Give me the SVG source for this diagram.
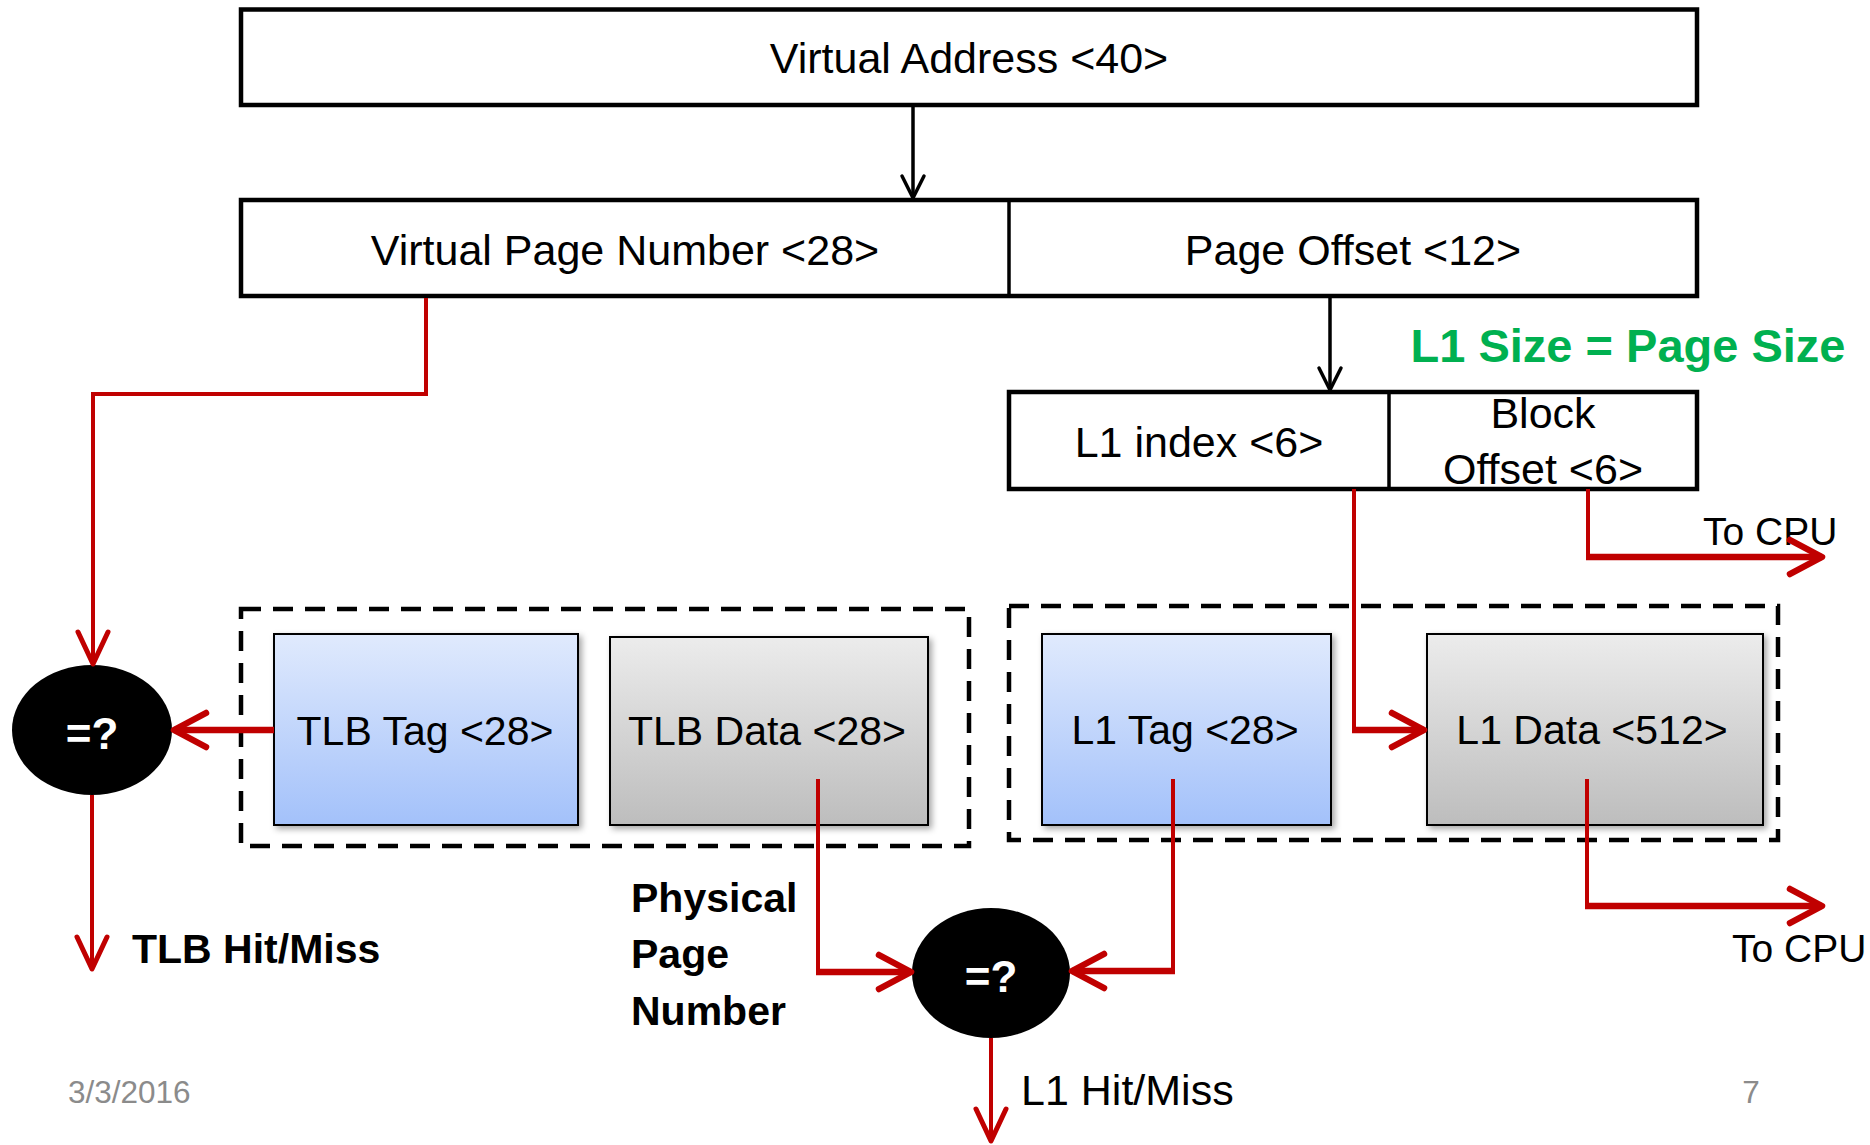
<svg xmlns="http://www.w3.org/2000/svg" width="1870" height="1145" viewBox="0 0 1870 1145">
<style>
  .t { font-family: "Liberation Sans", Arial, sans-serif; fill: #000; }
  .c { text-anchor: middle; }
  .f43 { font-size: 43px; }
  .f41 { font-size: 41px; }
  .b { font-weight: bold; }
  .box { fill: #fff; stroke: #000; stroke-width: 4.5; }
  .div { stroke: #000; stroke-width: 3.5; }
  .dash { fill: none; stroke: #000; stroke-width: 4.5; stroke-dasharray: 20 12; }
  .mem { stroke: #000; stroke-width: 2; }
  .red { fill: none; stroke: #C00000; stroke-width: 4; }
  .redh { fill: none; stroke: #C00000; stroke-width: 6.5; }
  .blk { fill: none; stroke: #000; stroke-width: 3.5; }
  .foot { font-family: "Liberation Sans", Arial, sans-serif; font-size: 31.5px; fill: #8B8B8B; }
</style>
<defs>
  <linearGradient id="gBlue" x1="0" y1="0" x2="0" y2="1">
    <stop offset="0" stop-color="#E0EAFD"/>
    <stop offset="1" stop-color="#A3C1FA"/>
  </linearGradient>
  <linearGradient id="gGray" x1="0" y1="0" x2="0" y2="1">
    <stop offset="0" stop-color="#ECECEC"/>
    <stop offset="1" stop-color="#BDBDBD"/>
  </linearGradient>
  <filter id="sh" x="-10%" y="-10%" width="130%" height="130%">
    <feDropShadow dx="3" dy="3" stdDeviation="3" flood-color="#000" flood-opacity="0.35"/>
  </filter>
  <marker id="aR" markerUnits="userSpaceOnUse" orient="auto" refX="0" refY="0" markerWidth="1" markerHeight="1" overflow="visible">
    <path d="M-32,-17 L0,0 L-32,17" fill="none" stroke="#C00000" stroke-width="6.5" stroke-linecap="round" stroke-linejoin="round"/>
  </marker>
  <marker id="aRt" markerUnits="userSpaceOnUse" orient="auto" refX="0" refY="0" markerWidth="1" markerHeight="1" overflow="visible">
    <path d="M-32,-15 L0,0 L-32,15" fill="none" stroke="#C00000" stroke-width="5" stroke-linecap="round" stroke-linejoin="round"/>
  </marker>
  <marker id="aK" markerUnits="userSpaceOnUse" orient="auto" refX="0" refY="0" markerWidth="1" markerHeight="1" overflow="visible">
    <path d="M-22,-11 L0,0 L-22,11" fill="none" stroke="#000" stroke-width="3.5" stroke-linecap="round" stroke-linejoin="round"/>
  </marker>
</defs>

<rect width="1870" height="1145" fill="#fff"/>

<g id="virtual-address">
  <rect class="box" x="241" y="9.5" width="1456" height="95.5"/>
  <text class="t c f43" x="969" y="73">Virtual Address &lt;40&gt;</text>
</g>

<g id="vpn-offset">
  <rect class="box" x="241" y="200" width="1456" height="96"/>
  <line class="div" x1="1009" y1="200" x2="1009" y2="296"/>
  <text class="t c f43" x="625" y="265">Virtual Page Number &lt;28&gt;</text>
  <text class="t c f43" x="1353" y="265">Page Offset &lt;12&gt;</text>
</g>

<g id="l1-index-offset">
  <rect class="box" x="1009" y="392" width="688" height="97"/>
  <line class="div" x1="1389" y1="392" x2="1389" y2="489"/>
  <text class="t c f43" x="1199" y="457">L1 index &lt;6&gt;</text>
  <text class="t c f43" x="1543" y="428">Block</text>
  <text class="t c f43" x="1543" y="484">Offset &lt;6&gt;</text>
</g>

<g id="l1-size-note">
  <text class="t c b" x="1628" y="362" font-size="47" style="fill:#00B050">L1 Size = Page Size</text>
</g>

<g id="tlb">
  <rect class="dash" x="241" y="609" width="728" height="237"/>
  <g id="tlb-tag">
    <rect class="mem" x="274" y="634" width="304" height="191" fill="url(#gBlue)" filter="url(#sh)"/>
    <text class="t c f41" x="425" y="745">TLB Tag &lt;28&gt;</text>
  </g>
  <g id="tlb-data">
    <rect class="mem" x="610" y="637" width="318" height="188" fill="url(#gGray)" filter="url(#sh)"/>
    <text class="t c f41" x="767" y="745">TLB Data &lt;28&gt;</text>
  </g>
</g>

<g id="l1">
  <rect class="dash" x="1009" y="606" width="769" height="234"/>
  <g id="l1-tag">
    <rect class="mem" x="1042" y="634" width="289" height="191" fill="url(#gBlue)" filter="url(#sh)"/>
    <text class="t c f41" x="1185" y="744">L1 Tag &lt;28&gt;</text>
  </g>
  <g id="l1-data">
    <rect class="mem" x="1427" y="634" width="336" height="191" fill="url(#gGray)" filter="url(#sh)"/>
    <text class="t c f41" x="1592" y="744">L1 Data &lt;512&gt;</text>
  </g>
</g>

<g id="tlb-compare">
  <ellipse cx="92" cy="730" rx="80" ry="65" fill="#000"/>
  <text class="t c b" x="92" y="749" font-size="44" style="fill:#fff">=?</text>
</g>

<g id="l1-compare">
  <ellipse cx="991" cy="973" rx="79" ry="65" fill="#000"/>
  <text class="t c b" x="991" y="992" font-size="44" style="fill:#fff">=?</text>
</g>

<g id="labels">
  <text class="t b f41" x="132" y="963">TLB Hit/Miss</text>
  <text class="t b f41" x="631" y="912">Physical</text>
  <text class="t b f41" x="631" y="968">Page</text>
  <text class="t b f41" x="631" y="1025">Number</text>
  <text class="t f43" x="1021" y="1105">L1 Hit/Miss</text>
  <text class="t" x="1703" y="545" font-size="39">To CPU</text>
  <text class="t" x="1732" y="962" font-size="39">To CPU</text>
</g>

<g id="connectors">
  <line class="blk" x1="913" y1="107" x2="913" y2="198" marker-end="url(#aK)"/>
  <line class="blk" x1="1330" y1="298" x2="1330" y2="390" marker-end="url(#aK)"/>

  <path class="red" d="M426,298 V394 H93 V664" marker-end="url(#aRt)"/>
  <line class="redh" x1="274" y1="730" x2="174" y2="730" marker-end="url(#aR)"/>
  <path class="red" d="M92,795 V969" marker-end="url(#aRt)"/>

  <path class="red" d="M1354,489 V733"/>
  <line class="redh" x1="1352" y1="730" x2="1424" y2="730" marker-end="url(#aR)"/>

  <path class="red" d="M1588,489 V559"/>
  <line class="redh" x1="1586" y1="557" x2="1822" y2="557" marker-end="url(#aR)"/>

  <path class="red" d="M818,779 V975"/>
  <line class="redh" x1="816" y1="972" x2="911" y2="972" marker-end="url(#aR)"/>

  <path class="red" d="M1173,779 V974"/>
  <line class="redh" x1="1175" y1="971" x2="1072" y2="971" marker-end="url(#aR)"/>

  <path class="red" d="M1587,779 V908"/>
  <line class="redh" x1="1585" y1="906" x2="1822" y2="906" marker-end="url(#aR)"/>

  <path class="red" d="M991,1038 V1141" marker-end="url(#aRt)"/>
</g>

<g id="footer">
  <text class="foot" x="68" y="1103">3/3/2016</text>
  <text class="foot c" x="1751" y="1103">7</text>
</g>
</svg>
